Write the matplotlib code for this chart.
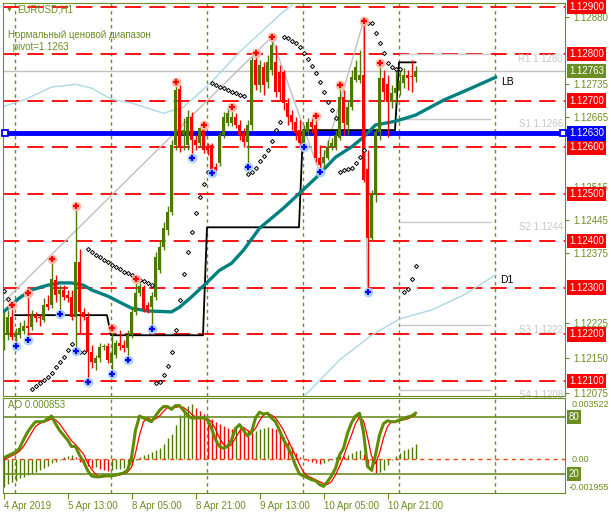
import numpy as np
import matplotlib.pyplot as plt
from matplotlib.transforms import blended_transform_factory

plt.rcParams['font.family'] = ['Liberation Sans', 'DejaVu Sans']

# ---- EURUSD H1 candles (bar 0 = 4 Apr 2019 21:00) ----
opens = [1.12188, 1.12198, 1.12237, 1.12194, 1.12198, 1.12207, 1.12218, 1.12216, 1.12241, 1.12237,
         1.12230, 1.12265, 1.12263, 1.12316, 1.12286, 1.12295, 1.12284, 1.12280, 1.12237, 1.12355,
         1.12248, 1.12237, 1.12162, 1.12139, 1.12149, 1.12173, 1.12175, 1.12139, 1.12156, 1.12181,
         1.12177, 1.12171, 1.12198, 1.12248, 1.12288, 1.12301, 1.12263, 1.12258, 1.12280, 1.12337,
         1.12387, 1.12423, 1.12461, 1.12605, 1.12725, 1.12626, 1.12605, 1.12665, 1.12616, 1.12609,
         1.12639, 1.12601, 1.12605, 1.12558, 1.12566, 1.12626, 1.12652, 1.12652, 1.12665, 1.12648,
         1.12630, 1.12611, 1.12648, 1.12787, 1.12733, 1.12772, 1.12740, 1.12765, 1.12782, 1.12761,
         1.12761, 1.12695, 1.12669, 1.12654, 1.12637, 1.12605, 1.12633, 1.12654, 1.12648, 1.12577,
         1.12566, 1.12577, 1.12601, 1.12601, 1.12620, 1.12707, 1.12648, 1.12686, 1.12744, 1.12744,
         1.12755, 1.12553, 1.12406, 1.12498, 1.12633, 1.12748, 1.12735, 1.12697, 1.12716, 1.12722,
         1.12737, 1.12755, 1.12752, 1.12750]
highs = [1.12248, 1.12252, 1.12263, 1.12213, 1.12226, 1.12230, 1.12288, 1.12252, 1.12248, 1.12243,
         1.12278, 1.12284, 1.12361, 1.12327, 1.12305, 1.12305, 1.12295, 1.12295, 1.12474, 1.12382,
         1.12256, 1.12248, 1.12177, 1.12156, 1.12181, 1.12179, 1.12181, 1.12213, 1.12188, 1.12209,
         1.12188, 1.12209, 1.12256, 1.12318, 1.12310, 1.12305, 1.12269, 1.12290, 1.12376, 1.12402,
         1.12440, 1.12474, 1.12616, 1.12740, 1.12733, 1.12663, 1.12680, 1.12675, 1.12626, 1.12643,
         1.12648, 1.12609, 1.12609, 1.12566, 1.12633, 1.12675, 1.12684, 1.12686, 1.12673, 1.12658,
         1.12641, 1.12658, 1.12793, 1.12802, 1.12787, 1.12782, 1.12797, 1.12836, 1.12819, 1.12776,
         1.12765, 1.12705, 1.12680, 1.12665, 1.12658, 1.12648, 1.12663, 1.12663, 1.12667, 1.12605,
         1.12594, 1.12616, 1.12620, 1.12637, 1.12733, 1.12722, 1.12701, 1.12765, 1.12787, 1.12808,
         1.12870, 1.12594, 1.12509, 1.12641, 1.12780, 1.12765, 1.12755, 1.12733, 1.12765, 1.12765,
         1.12770, 1.12765, 1.12787, 1.12774]
lows = [1.12166, 1.12188, 1.12188, 1.12175, 1.12192, 1.12200, 1.12188, 1.12209, 1.12226, 1.12218,
        1.12226, 1.12252, 1.12256, 1.12270, 1.12243, 1.12273, 1.12269, 1.12230, 1.12164, 1.12202,
        1.12230, 1.12098, 1.12128, 1.12124, 1.12141, 1.12166, 1.12139, 1.12115, 1.12149, 1.12166,
        1.12162, 1.12145, 1.12192, 1.12241, 1.12282, 1.12248, 1.12246, 1.12211, 1.12273, 1.12331,
        1.12380, 1.12412, 1.12455, 1.12594, 1.12590, 1.12594, 1.12594, 1.12577, 1.12594, 1.12601,
        1.12588, 1.12583, 1.12545, 1.12549, 1.12560, 1.12620, 1.12646, 1.12646, 1.12641, 1.12616,
        1.12601, 1.12558, 1.12637, 1.12722, 1.12718, 1.12712, 1.12727, 1.12755, 1.12707, 1.12701,
        1.12680, 1.12648, 1.12637, 1.12616, 1.12604, 1.12601, 1.12626, 1.12630, 1.12568, 1.12547,
        1.12558, 1.12573, 1.12594, 1.12594, 1.12616, 1.12626, 1.12626, 1.12680, 1.12740, 1.12737,
        1.12526, 1.12290, 1.12402, 1.12483, 1.12616, 1.12701, 1.12622, 1.12684, 1.12695, 1.12712,
        1.12727, 1.12722, 1.12718, 1.12740]
closes = [1.12237, 1.12237, 1.12194, 1.12202, 1.12213, 1.12218, 1.12213, 1.12241, 1.12235, 1.12235,
          1.12263, 1.12258, 1.12318, 1.12284, 1.12295, 1.12280, 1.12278, 1.12237, 1.12355, 1.12248,
          1.12237, 1.12162, 1.12141, 1.12149, 1.12173, 1.12175, 1.12145, 1.12160, 1.12181, 1.12175,
          1.12171, 1.12198, 1.12248, 1.12288, 1.12303, 1.12254, 1.12252, 1.12282, 1.12365, 1.12387,
          1.12427, 1.12461, 1.12605, 1.12722, 1.12603, 1.12637, 1.12665, 1.12616, 1.12605, 1.12641,
          1.12594, 1.12594, 1.12547, 1.12547, 1.12626, 1.12665, 1.12673, 1.12665, 1.12648, 1.12626,
          1.12611, 1.12648, 1.12787, 1.12733, 1.12776, 1.12733, 1.12782, 1.12819, 1.12718, 1.12718,
          1.12695, 1.12665, 1.12654, 1.12630, 1.12609, 1.12637, 1.12654, 1.12643, 1.12577, 1.12562,
          1.12579, 1.12601, 1.12609, 1.12626, 1.12707, 1.12652, 1.12686, 1.12750, 1.12772, 1.12755,
          1.12530, 1.12406, 1.12498, 1.12633, 1.12748, 1.12718, 1.12697, 1.12716, 1.12727, 1.12740,
          1.12755, 1.12748, 1.12750, 1.12763]

# parabolic SAR dots (nan = outside the view)
sar = [1.12292, 1.12275, np.nan, np.nan, np.nan, np.nan, np.nan, 1.12083, 1.12089, 1.12096,
       1.12102, 1.12109, 1.12117, 1.12130, 1.12141, 1.12151, 1.12166, 1.12179, 1.12162, 1.12162,
       1.12162, 1.12382, 1.12376, 1.12370, 1.12365, 1.12359, 1.12355, 1.12348, 1.12344, 1.12340,
       1.12333, 1.12331, 1.12327, 1.12322, 1.12316, 1.12314, 1.12310, 1.12305, 1.12096, 1.12098,
       1.12113, 1.12132, 1.12162, 1.12209, 1.12273, 1.12329, 1.12376, 1.12419, 1.12459, 1.12494,
       1.12521, 1.12547, 1.12737, 1.12733, 1.12729, 1.12727, 1.12722, 1.12718, 1.12716, 1.12712,
       1.12710, 1.12543, 1.12547, 1.12556, 1.12571, 1.12581, 1.12594, 1.12613, 1.12637, 1.12654,
       1.12836, 1.12834, 1.12827, 1.12823, 1.12814, 1.12802, 1.12789, 1.12774, 1.12759, 1.12740,
       1.12718, 1.12697, 1.12680, 1.12663, 1.12547, 1.12551, 1.12553, 1.12556, 1.12566, 1.12579,
       1.12594, 1.12866, 1.12866, 1.12844, 1.12823, 1.12802, 1.12780, 1.12772, 1.12767, 1.12767,
       1.12290, 1.12297, 1.12318, 1.12346]

fractal_up = [2, 6, 12, 18, 27, 33, 43, 50, 57, 63, 67, 78, 84, 90, 94]
fractal_dn = [3, 6, 14, 18, 21, 27, 31, 37, 47, 52, 61, 75, 79, 91]

# teal "LB" line and light-blue "D1" lines (bar index, price)
lb_idx = [0, 2, 4, 7, 11, 14, 17, 20, 22, 26, 29, 32, 36, 42, 44, 47, 51, 54, 57, 60, 64,
          70, 74, 78, 83, 87, 90, 93, 98, 103, 110, 117, 123]
lb_val = [1.12248, 1.12263, 1.12278, 1.12295, 1.12305, 1.12310, 1.12310, 1.12305, 1.12295,
          1.12282, 1.12269, 1.12256, 1.12250, 1.12248, 1.12258, 1.12280, 1.12312, 1.12337,
          1.12352, 1.12380, 1.12427, 1.12470, 1.12502, 1.12534, 1.12579, 1.12601, 1.12622,
          1.12648, 1.12656, 1.12669, 1.12701, 1.12727, 1.12750]
d1_top_idx = [0, 5, 12, 18, 22, 27, 32, 40, 45, 52, 59, 69, 72]
d1_top_val = [1.12688, 1.12701, 1.12729, 1.12735, 1.12727, 1.12703, 1.12695, 1.12673,
              1.12686, 1.12740, 1.12804, 1.12883, 1.12904]
d1_low_idx = [75, 84, 92, 99, 107, 115, 123]
d1_low_val = [1.12066, 1.12145, 1.12198, 1.12233, 1.12252, 1.12284, 1.12327]

# zigzag (grey)
zz_idx = [0, 67, 79, 90, 91]
zz_val = [1.12269, 1.12836, 1.12547, 1.12870, 1.12290]

# daily black step level
day_start = [3, 27, 51, 75, 99]
day_end = [26, 50, 74, 98, 103]
day_level = [1.12241, 1.12198, 1.12429, 1.12637, 1.12782]

red_levels = [1.12900, 1.12800, 1.12700, 1.12600, 1.12500, 1.12400, 1.12300, 1.12200, 1.12100]
pivot_name = ['R1', 'S1', 'S2', 'S3', 'S4']
pivot_val = [1.1280, 1.1266, 1.1244, 1.1222, 1.1208]
pivot = 1.1263
last_price = 1.12763
price_ticks = [1.12880, 1.12735, 1.12665, 1.12515, 1.12445, 1.12375,
               1.12225, 1.12150, 1.12075]

# AO and stochastic
ao = [-0.00162, -0.00144, -0.00133, -0.00127, -0.00110, -0.00104, -0.00092, -0.00087, -0.00075, -0.00063,
      -0.00052, -0.00040, -0.00023, -0.00017, -0.00006, 0.00012, 0.00017, 0.00023, 0.00012, -0.00017,
      -0.00029, -0.00040, -0.00052, -0.00046, -0.00058, -0.00063, -0.00066, -0.00063, -0.00058, -0.00055,
      -0.00052, -0.00050, -0.00035, -0.00006, 0.00012, 0.00023, 0.00029, 0.00040, 0.00052, 0.00063,
      0.00087, 0.00121, 0.00144, 0.00196, 0.00254, 0.00271, 0.00306, 0.00317, 0.00294, 0.00277,
      0.00260, 0.00237, 0.00231, 0.00213, 0.00202, 0.00190, 0.00179, 0.00175, 0.00185, 0.00179,
      0.00173, 0.00167, 0.00156, 0.00162, 0.00173, 0.00179, 0.00185, 0.00179, 0.00175, 0.00156,
      0.00127, 0.00098, 0.00069, 0.00035, 0.00010, -0.00006, -0.00012, -0.00017, -0.00023, -0.00029,
      -0.00020, -0.00012, -0.00006, 0.00012, 0.00023, 0.00017, 0.00023, 0.00035, 0.00046, 0.00052,
      0.00029, -0.00052, -0.00069, -0.00081, -0.00075, -0.00063, -0.00035, -0.00006, 0.00017, 0.00035,
      0.00052, 0.00058, 0.00069, 0.000853]
stoch_k = [37, 39, 41, 43, 47, 56, 64, 70, 75, 75, 75, 78, 81, 73, 66, 61, 56, 49, 49, 40,
           33, 24, 18, 17, 17, 18, 18, 18, 19, 20, 21, 24, 37, 66, 81, 79, 77, 75, 81, 87,
           91, 91, 88, 92, 92, 87, 82, 79, 79, 79, 79, 77, 68, 56, 49, 47, 49, 56, 68, 72,
           66, 60, 64, 79, 85, 83, 84, 79, 75, 66, 56, 49, 40, 29, 20, 18, 16, 14, 13, 9,
           7, 12, 18, 26, 40, 47, 63, 74, 81, 84, 64, 28, 24, 40, 61, 73, 76, 75, 75, 77,
           78, 80, 81, 84]
stoch_d = [35, 37, 39, 41, 44, 49, 56, 63, 70, 73, 75, 76, 78, 77, 73, 67, 61, 55, 51, 46,
           41, 32, 25, 20, 17, 17, 18, 18, 18, 19, 20, 22, 27, 42, 61, 75, 79, 77, 78, 81,
           86, 90, 90, 90, 91, 90, 87, 83, 80, 79, 79, 78, 75, 67, 58, 51, 48, 51, 58, 65,
           69, 66, 63, 68, 76, 82, 84, 82, 79, 73, 66, 57, 48, 39, 30, 22, 18, 16, 14, 12,
           10, 9, 12, 19, 28, 38, 50, 61, 73, 80, 76, 59, 39, 31, 42, 58, 70, 75, 75, 76,
           77, 78, 80, 82]

time_ticks = [0, 16, 32, 48, 64, 80, 96]
time_labels = ['4 Apr 2019', '5 Apr 13:00', '8 Apr 05:00', '8 Apr 21:00',
               '9 Apr 13:00', '10 Apr 05:00', '10 Apr 21:00']
separators = [3, 27, 51, 75, 99, 123]

OL = '#6b8e23'
GREEN = '#4c7a00'
RED = '#ff0000'
W, H = 611, 514

fig = plt.figure(figsize=(W / 100, H / 100), dpi=100)
ax = fig.add_axes([3 / W, 1 - 396 / H, 562 / W, 393 / H])
ax2 = fig.add_axes([3 / W, 1 - 493 / H, 562 / W, 95 / H])
XL = (-0.125, 140.375)

# ---------------- main price panel ----------------
ax.set_xlim(*XL)
ax.set_ylim(1.12068, 1.12909)
for s in ax.spines.values():
    s.set_color(OL)
for x in separators:
    ax.axvline(x - 0.125, color=OL, lw=1, ls=(0, (2.5, 2.5)), zorder=1)
for lv in red_levels:
    ax.axhline(lv, color=RED, lw=1.3, ls=(0, (9, 4.5)), zorder=1)
ax.axhline(last_price, color='#c0c0c0', lw=1, zorder=1)

tb = blended_transform_factory(ax.transAxes, ax.transData)
for name, v in zip(pivot_name, pivot_val):
    ax.hlines(v, 98.875, 121.9, color='#c8c8c8', lw=1, zorder=1)
    ax.text(0.9964, v, f'{name} {v:.4f}', transform=tb, ha='right', va='top',
            fontsize=7, color='#c8c8c8', zorder=1)

ax.plot(d1_top_idx, d1_top_val, color='#add8e6', lw=1, zorder=2)
ax.plot(d1_low_idx, d1_low_val, color='#add8e6', lw=1, zorder=2)
ax.plot(zz_idx, zz_val, color='#c0c0c0', lw=1, zorder=2)

bx, by = [], []
for s0, e0, lv in zip(day_start, day_end, day_level):
    bx += [s0 - 0.125, e0 - 0.125 if e0 < 103 else e0]
    by += [lv, lv]
ax.plot(bx, by, color='black', lw=1.3, zorder=2)

ax.axhline(pivot, color='#0000ff', lw=3.5, zorder=2)
ax.plot([0.4, 139.9], [pivot, pivot], 's', ms=4, mfc='white', mec='#0000ff', mew=1.3,
        zorder=3, clip_on=False)

ax.plot(lb_idx, lb_val, color='#008080', lw=2.4, zorder=3)

idx = np.arange(len(closes))
o, h, l, c = map(np.array, (opens, highs, lows, closes))
col = np.where(c >= o, GREEN, RED)
ax.vlines(idx, l, h, colors=col, lw=1, zorder=4)
ax.bar(idx, np.maximum(np.abs(c - o), 0.000015), bottom=np.minimum(o, c), width=0.72,
       color=col, zorder=5)

ax.plot(idx, sar, 'D', ms=2.1, mfc='white', mec='black', mew=0.7, ls='none', zorder=6)

ax.plot(fractal_up, h[fractal_up], 'o', ms=6, color='#ffb8a8', alpha=0.9, zorder=6)
ax.plot(fractal_up, h[fractal_up], '+', ms=5, color=RED, mew=1.6, zorder=7)
ax.plot(fractal_dn, l[fractal_dn], 'o', ms=6, color='#a8d0ff', alpha=0.9, zorder=6)
ax.plot(fractal_dn, l[fractal_dn], '+', ms=5, color='#0000ff', mew=1.6, zorder=7)

ax.text(124.5, 1.12740, 'LB', fontsize=7.5, color='black', va='center')
ax.text(124.2, 1.12316, 'D1', fontsize=7.5, color='black', va='center')

ax.set_xticks([])
ax.yaxis.tick_right()
ax.set_yticks(price_ticks)
ax.set_yticklabels([f'{v:.5f}' for v in price_ticks])
ax.tick_params(axis='y', colors=OL, length=3, pad=3, labelsize=7)

for lv in red_levels:
    ax.text(1.0072, lv, f'{lv:.5f}', transform=tb, ha='left', va='center', fontsize=7,
            color='white', bbox=dict(facecolor=RED, edgecolor='none', pad=1.6))
ax.text(1.0072, last_price, f'{last_price:.5f}', transform=tb, ha='left', va='center',
        fontsize=7, color='white', bbox=dict(facecolor=OL, edgecolor='none', pad=1.6))
ax.text(1.0072, pivot, f'{pivot:.5f}', transform=tb, ha='left', va='center', fontsize=7,
        color='white', bbox=dict(facecolor='#0000ff', edgecolor='none', pad=1.6))

fig.text(6 / W, 1 - 10 / H, '\u25bc', fontsize=5, color=OL, va='center')
fig.text(17 / W, 1 - 10 / H, 'EURUSD,H1', fontsize=7, color=OL, va='center')
fig.text(8 / W, 1 - 35 / H, 'Нормальный ценовой диапазон', fontsize=7, color=OL, va='center')
fig.text(10 / W, 1 - 47 / H, ' pivot=1.1263', fontsize=7, color=OL, va='center')

# ---------------- AO + stochastic panel ----------------
ax2.set_xlim(*XL)
ax2.set_ylim(-0.001955, 0.003522)
for s in ax2.spines.values():
    s.set_color(OL)
for x in separators:
    ax2.axvline(x - 0.125, color=OL, lw=1, ls=(0, (2.5, 2.5)), zorder=1)
ao_arr = np.array(ao)
ao_col = [GREEN] + [GREEN if ao_arr[i] > ao_arr[i - 1] else RED for i in range(1, len(ao))]
ax2.vlines(idx, 0, ao_arr, colors=ao_col, lw=1, zorder=2)
ax2.axhline(0, color='#ff4500', lw=1, ls=(0, (3, 3)), zorder=2)

ax3 = ax2.twinx()
ax3.set_ylim(0, 100)
ax3.axis('off')
ax3.axhline(80, color=OL, lw=1.2)
ax3.axhline(20, color=OL, lw=1.2)
ax3.plot(idx, stoch_d, color=RED, lw=0.9, zorder=3)
ax3.plot(idx, stoch_k, color='#5f8c00', lw=2.2, zorder=4)

ax2.set_yticks([])
ax2.set_xticks(time_ticks)
ax2.set_xticklabels(time_labels, ha='left')
ax2.tick_params(axis='x', colors=OL, length=4, pad=2, labelsize=7)

t2 = blended_transform_factory(ax2.transAxes, ax2.transData)
ax2.text(0.009, 0.0031, 'AO 0.000853', fontsize=7, color=OL, va='center',
         transform=t2)
ax2.text(1.0125, 0.00315, '0.003522', transform=t2, fontsize=6.5, color=OL, va='center')
ax2.text(1.0125, 0.0, '0.00', transform=t2, fontsize=6.5, color=OL, va='center')
ax2.text(1.0072, -0.00165, '-0.001955', transform=t2, fontsize=6.5, color=OL, va='center')
t3 = blended_transform_factory(ax2.transAxes, ax3.transData)
for lv in (80, 20):
    ax3.text(1.0072, lv, f'{lv}', transform=t3, fontsize=7, color='white', va='center',
             bbox=dict(facecolor=OL, edgecolor='none', pad=1.2))

fig.savefig('out.png', dpi=100)
